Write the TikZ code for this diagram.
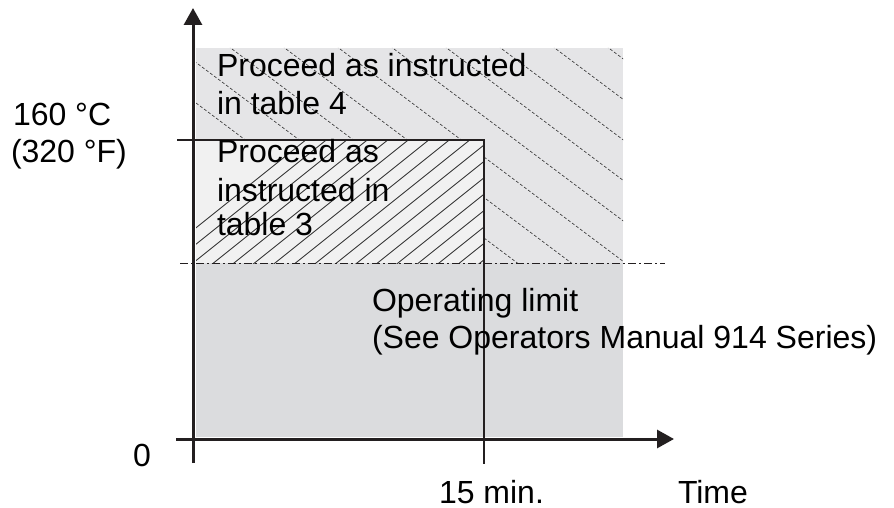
\documentclass[tikz,border=0pt]{standalone}
\usepackage{fontspec}
\setmainfont{Liberation Sans}
\usetikzlibrary{arrows.meta}
\definecolor{upgray}{HTML}{E5E5E7}
\definecolor{lowgray}{HTML}{DBDCDE}
\definecolor{tabgray}{HTML}{F1F1F1}
\definecolor{axiscol}{HTML}{231F20}
\definecolor{hatchcol}{HTML}{2A2A2A}
\tikzset{
  axisline/.style={draw=axiscol,line width=3pt,-{Triangle[length=17pt,width=18pt]}},
  thinline/.style={draw=axiscol,line width=1.1pt},
  dashhatch/.style={draw=hatchcol,line width=0.6pt,dash pattern=on 3pt off 2pt},
  solidhatch/.style={draw=hatchcol,line width=0.8pt},
  limitline/.style={draw=axiscol,line width=1pt,dash pattern=on 8pt off 3pt on 2pt off 3pt},
  lbl/.style={anchor=base west,inner sep=0pt,outer sep=0pt,font=\fontsize{32}{38}\selectfont,text=black}
}
\begin{document}
\begin{tikzpicture}[x=1pt,y=-1pt]
\useasboundingbox (0,0) rectangle (894,508);
% regions
\fill[upgray] (196,48) rectangle (623,263);
\fill[lowgray] (196,263) rectangle (623,437);
\fill[tabgray] (196,140) rectangle (484,263);
% dashed hatch of upper region
\begin{scope}
  \clip (196,48) -- (623,48) -- (623,263) -- (484,263) -- (484,140) -- (196,140) -- cycle;
  \foreach \k in {-12,...,9} {
    \pgfmathsetmacro{\xo}{232+54*\k}
    \draw[dashhatch] (\xo-300,49-225) -- (\xo+600,49+450);
  }
\end{scope}
% solid hatch of table 3 region
\begin{scope}
  \clip (196,140) rectangle (484,263);
  \foreach \k in {-2,...,16} {
    \pgfmathsetmacro{\xi}{193+20.5*\k}
    \draw[solidhatch] (\xi-200,263+160) -- (\xi+400,263-320);
  }
\end{scope}
% lines
\coordinate (h1) at (177,140);
\coordinate (corner) at (484,140);
\coordinate (vbot) at (484,464);
\draw[thinline] (h1) -- (corner) -- (vbot);
\coordinate (l1) at (180,263);
\coordinate (l2) at (665,263);
\draw[limitline] (l1) -- (l2);
% axes
\coordinate (ystart) at (193,463);
\coordinate (ytip) at (193,8);
\coordinate (xstart) at (176,439);
\coordinate (xtip) at (674,439);
\draw[axisline] (ystart) -- (ytip);
\draw[axisline] (xstart) -- (xtip);
% labels
\node[lbl] (t4a) at (217,77) {Proceed as instructed};
\node[lbl] (t4b) at (217,115) {in table 4};
\node[lbl] (t3a) at (217,163) {Proceed as};
\node[lbl] (t3b) at (217,201) {instructed in};
\node[lbl] (t3c) at (217,235) {table 3};
\node[lbl] (tc) at (13,125) {160 °C};
\node[lbl] (tf) at (11,162) {(320 °F)};
\node[lbl] (op1) at (372,311) {Operating limit};
\node[lbl] (op2) at (372,348) {(See Operators Manual 914 Series)};
\node[lbl] (zero) at (133,466) {0};
\node[lbl] (fifteen) at (439,503) {15 min.};
\node[lbl] (time) at (678,503) {Time};
\end{tikzpicture}
\end{document}
